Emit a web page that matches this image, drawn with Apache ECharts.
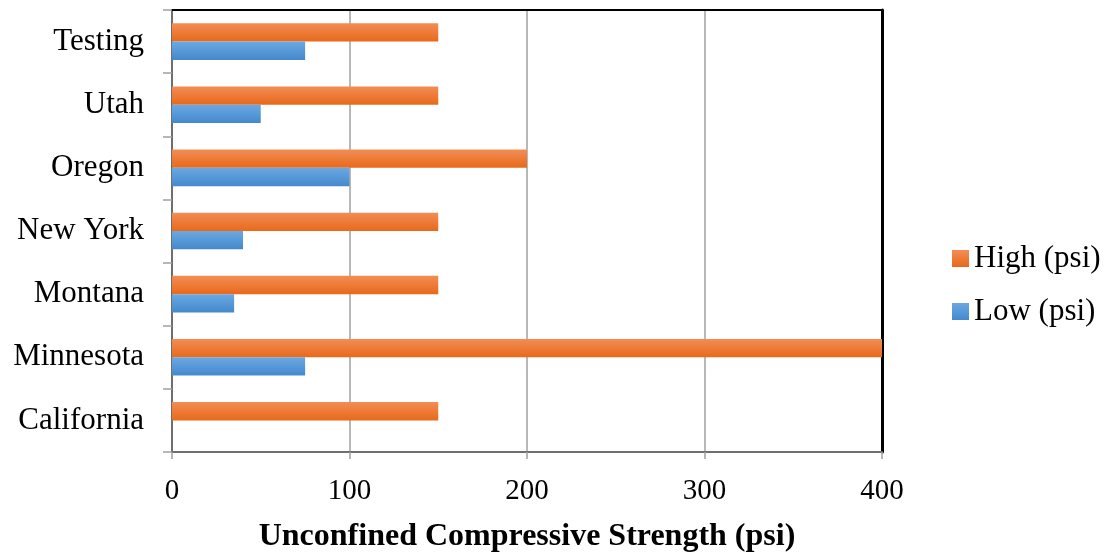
<!DOCTYPE html>
<html><head><meta charset="utf-8">
<script src="https://cdn.jsdelivr.net/npm/echarts@6/dist/echarts.min.js"></script>
<style>html,body{margin:0;padding:0;background:#fff}#c{width:1108px;height:552px}</style>
</head><body><div id="c"></div>
<script>
const categories = ['California','Minnesota','Montana','New York','Oregon','Utah','Testing'];
const lowValues = [0, 75, 35, 40, 100, 50, 75];
const highValues = [150, 400, 150, 150, 200, 150, 150];
const xTicks = [0, 100, 200, 300, 400];
const seriesNames = ['High (psi)', 'Low (psi)'];
const axisTitle = 'Unconfined Compressive Strength (psi)';

const font = 'Liberation Serif, Times New Roman, serif';
const chart = echarts.init(document.getElementById('c'));
function grad(top, bottom){
  return new echarts.graphic.LinearGradient(0,0,0,1,[{offset:0,color:top},{offset:1,color:bottom}]);
}
const xMin = xTicks[0], xMax = xTicks[xTicks.length-1];
chart.setOption({
  animation:false,
  grid:{left:172,right:226,top:10,bottom:100,show:true,borderColor:'#6e6e6e',borderWidth:2,
        outerBoundsMode:'none',containLabel:false},
  legend:{
    orient:'vertical', left:947, top:238, itemWidth:17, itemHeight:17, itemGap:22,
    data:[seriesNames[0], seriesNames[1]],
    textStyle:{fontFamily:font,fontSize:31,color:'#000'},
    icon:'rect'
  },
  xAxis:[{
    type:'value', min:xMin, max:xMax, interval:100, position:'bottom',
    axisLine:{show:true,onZero:false,lineStyle:{color:'#6e6e6e',width:2}},
    axisTick:{show:true,length:7,lineStyle:{color:'#a0a0a0',width:1.5}},
    splitLine:{show:true,lineStyle:{color:'#a0a0a0',width:1.5}},
    axisLabel:{fontFamily:font,fontSize:29,color:'#000',margin:25},
    name:axisTitle, nameLocation:'middle', nameGap:69,
    nameTextStyle:{fontFamily:font,fontSize:32,fontWeight:'bold',color:'#000'}
  },{
    type:'value', position:'top', min:xMin, max:xMax, interval:100,
    axisLine:{show:true,onZero:false,lineStyle:{color:'#000',width:2}},
    axisTick:{show:false}, axisLabel:{show:false}, splitLine:{show:false}
  }],
  yAxis:[{
    type:'category', data:categories, position:'left',
    axisLine:{show:true,onZero:false,lineStyle:{color:'#6e6e6e',width:2}},
    axisTick:{show:true,length:9,lineStyle:{color:'#a0a0a0',width:1.5}},
    axisLabel:{fontFamily:font,fontSize:31,color:'#000',margin:28},
    splitLine:{show:false}
  },{
    type:'category', data:categories, position:'right',
    axisLine:{show:true,onZero:false,lineStyle:{color:'#000',width:3}},
    axisTick:{show:false}, axisLabel:{show:false}, splitLine:{show:false}
  }],
  series:[
    {name:seriesNames[0],type:'bar',data:highValues,barGap:'0%',barCategoryGap:'42%',
     itemStyle:{color:grad('#f28d55','#e8691a')}},
    {name:seriesNames[1],type:'bar',data:lowValues,barGap:'0%',barCategoryGap:'42%',
     itemStyle:{color:grad('#6aa8e2','#4589cc')}}
  ]
});
</script></body></html>
